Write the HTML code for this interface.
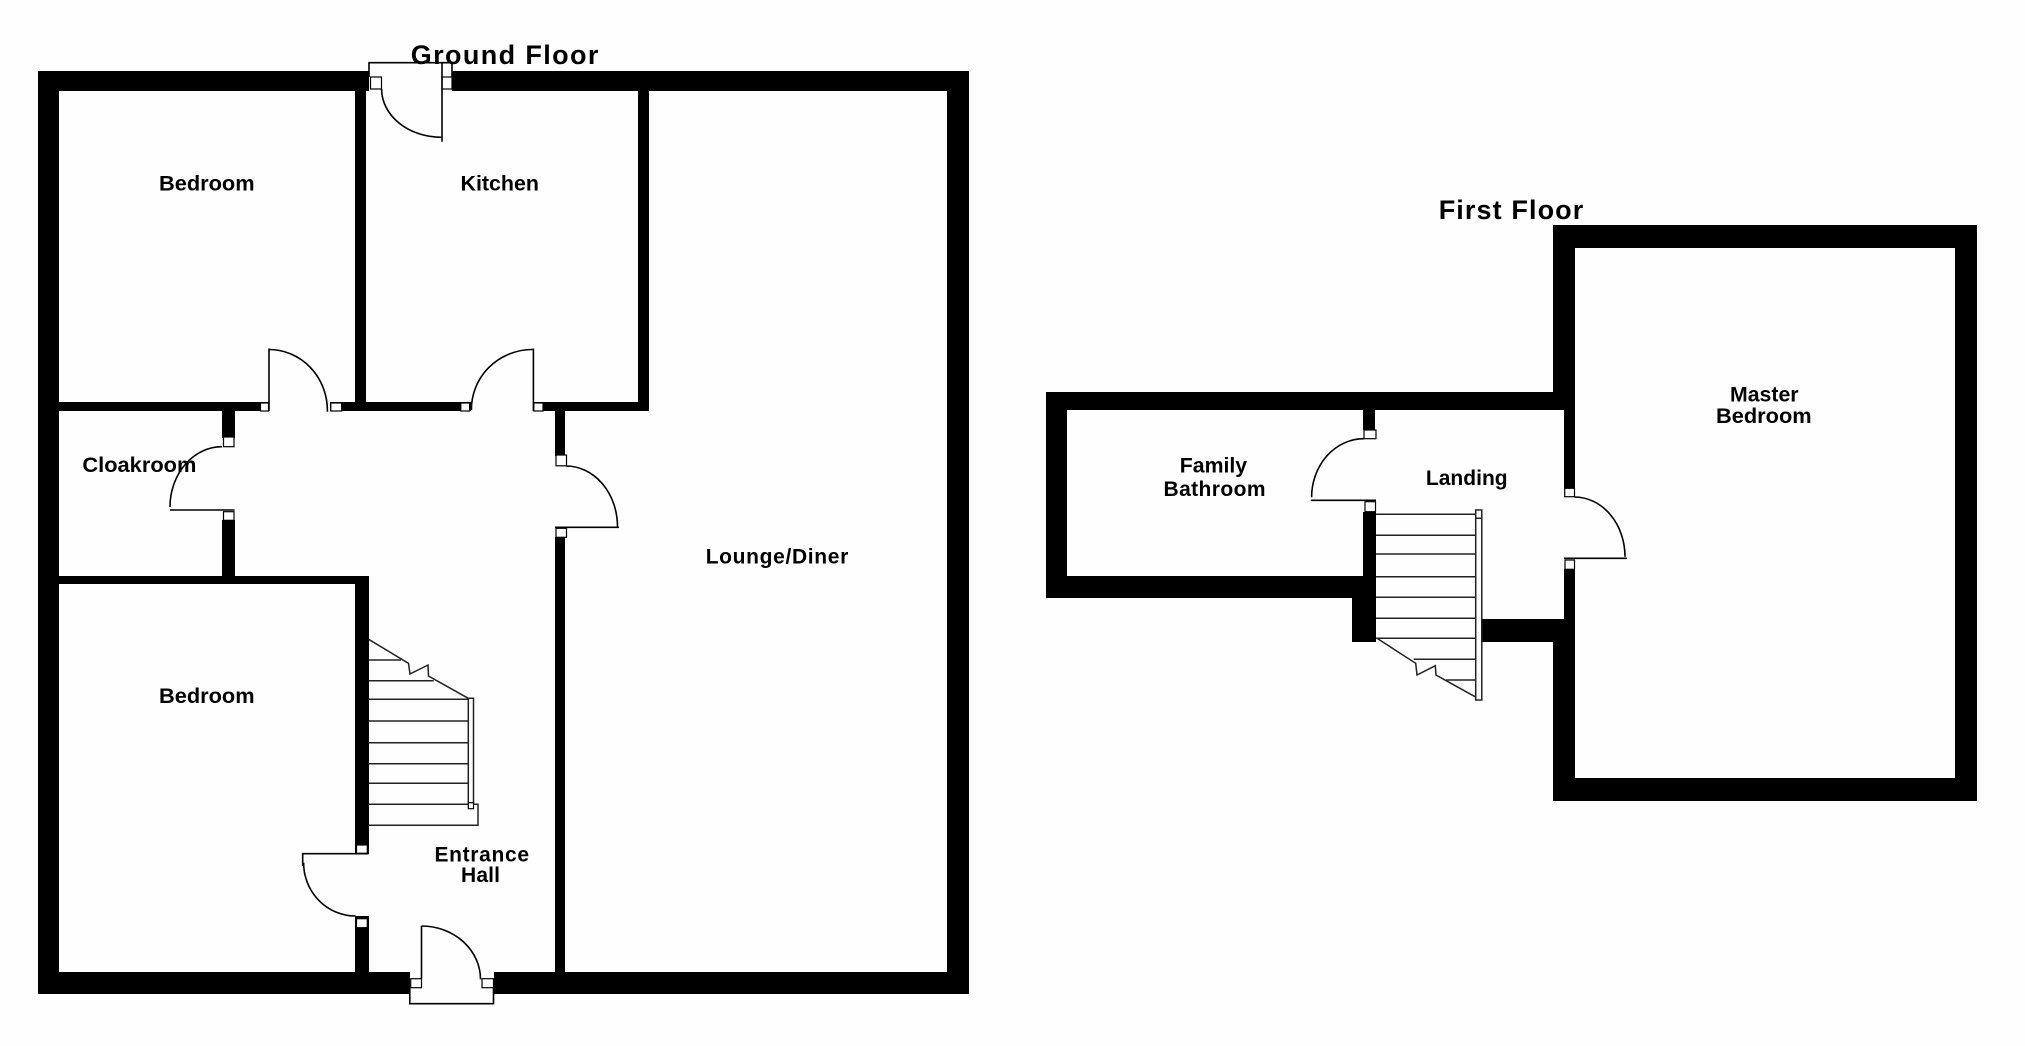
<!DOCTYPE html>
<html>
<head>
<meta charset="utf-8">
<style>
html,body{margin:0;padding:0;background:#fefefe;width:2025px;height:1046px;overflow:hidden}
svg{display:block}
text{font-family:"Liberation Sans",Arial,sans-serif;font-weight:bold;fill:#000}
.w{fill:#000;shape-rendering:crispEdges}
.s{fill:#fff;stroke:#000;stroke-width:1.2}
.l{fill:none;stroke:#000;stroke-width:1.6}
.t{fill:none;stroke:#222;stroke-width:1.5}
</style>
</head>
<body>
<svg width="2025" height="1046" viewBox="0 0 2025 1046" xmlns="http://www.w3.org/2000/svg">
<rect width="2025" height="1046" fill="#fefefe"/>

<!-- Ground floor walls -->
<g class="w">
<rect x="38" y="71" width="331" height="20"/>
<rect x="452" y="71" width="517" height="20"/>
<rect x="38" y="71" width="21" height="923"/>
<rect x="947" y="71" width="22" height="923"/>
<rect x="38" y="972" width="372" height="22"/>
<rect x="494" y="972" width="475" height="22"/>
<rect x="355" y="91" width="11" height="320"/>
<rect x="638" y="91" width="11" height="320"/>
<rect x="59" y="402" width="210" height="9"/>
<rect x="330" y="402" width="141" height="9"/>
<rect x="533" y="402" width="116" height="9"/>
<rect x="555" y="411" width="10" height="45"/>
<rect x="555" y="537" width="10" height="435"/>
<rect x="222" y="411" width="13" height="27"/>
<rect x="222" y="520" width="13" height="56"/>
<rect x="59" y="576" width="310" height="8"/>
<rect x="355" y="576" width="14" height="278"/>
<rect x="355" y="916" width="14" height="56"/>
</g>

<!-- Ground floor jambs -->
<g class="s">
<rect x="370.5" y="77" width="11" height="12"/>
<rect x="442" y="77" width="10" height="12"/>
<rect x="260.5" y="403" width="8" height="8"/>
<rect x="330.8" y="403" width="10.8" height="8"/>
<rect x="460.8" y="403" width="8.8" height="8"/>
<rect x="533.8" y="403" width="9.2" height="8"/>
<rect x="556" y="455" width="10.5" height="10.8"/>
<rect x="556" y="528.3" width="10.5" height="9"/>
<rect x="223.5" y="437" width="10.5" height="9.7"/>
<rect x="223.5" y="511.7" width="10.5" height="8.6"/>
<rect x="356.5" y="845" width="10.8" height="8.3"/>
<rect x="356.5" y="918.7" width="10.8" height="9"/>
<rect x="410.7" y="978.7" width="10.8" height="9"/>
<rect x="482" y="978.7" width="11.5" height="9"/>
</g>

<!-- Ground floor door lines and arcs -->
<g class="l">
<path d="M369 77V62.7H452V77"/>
<path d="M442 63V141.7"/>
<path d="M381.6 89A60 48.3 0 0 0 441.5 137.3"/>
<path d="M269 411V348.5"/>
<path d="M269 349.5A58.4 61 0 0 1 327.4 411.7"/>
<path d="M533.4 411V348.5"/>
<path d="M471.4 410A61 60 0 0 1 532.5 349.5"/>
<path d="M566 466A51.5 60.7 0 0 1 617.5 526.7"/>
<path d="M555 527.3H619"/>
<path d="M222 446.7A52 60.3 0 0 0 170 507"/>
<path d="M170 510H234.6"/>
<path d="M302.7 866V853.7H368.6"/>
<path d="M303.6 862.7A52 53.3 0 0 0 355.6 916"/>
<path d="M421.5 978.7V926"/>
<path d="M421.5 926A59 53.3 0 0 1 480.5 979.3"/>
<path d="M409.8 988V1003.7H493.5V988"/>
</g>

<!-- Ground floor stairs -->
<g class="t">
<path d="M368.6 660H401M368.6 680.7H433.7M368.6 699.3H468.3M368.6 721H468.3M368.6 742.7H468.3M368.6 763.7H468.3M368.6 783.3H468.3M368.6 804.3H478V825.3H368.6"/>
<path d="M368.6 639.3L408.5 663.3L410 674L428 665L428.5 676L468.3 698.3"/>
<path d="M468.3 698.3H473.5V803M468.3 698.3V803"/>
</g>
<rect class="s" x="468.3" y="802.7" width="5.2" height="6"/>

<!-- First floor walls -->
<g class="w">
<rect x="1553" y="225" width="424" height="23"/>
<rect x="1553" y="225" width="22" height="170"/>
<rect x="1955" y="225" width="22" height="576"/>
<rect x="1553" y="778" width="424" height="23"/>
<rect x="1553" y="642" width="22" height="159"/>
<rect x="1046" y="392" width="529" height="18"/>
<rect x="1046" y="392" width="21" height="206"/>
<rect x="1046" y="576" width="330" height="22"/>
<rect x="1352" y="576" width="24" height="66"/>
<rect x="1363" y="512" width="13" height="130"/>
<rect x="1363" y="410" width="12" height="20"/>
<rect x="1564" y="410" width="11" height="79"/>
<rect x="1564" y="569" width="11" height="73"/>
<rect x="1481" y="619" width="94" height="23"/>
</g>

<!-- First floor jambs -->
<g class="s">
<rect x="1364" y="430" width="12" height="8.7"/>
<rect x="1365" y="501.7" width="10.5" height="10"/>
<rect x="1564.7" y="488.3" width="9.8" height="8.4"/>
<rect x="1565" y="560" width="9.5" height="9.3"/>
</g>

<!-- First floor door lines and arcs -->
<g class="l">
<path d="M1363.9 438.7A52.3 58.6 0 0 0 1311.6 497.3"/>
<path d="M1310.8 500.3H1376"/>
<path d="M1574.5 497A50.5 59.7 0 0 1 1625 556.7"/>
<path d="M1563.9 558.3H1627"/>
</g>

<!-- First floor stairs -->
<g class="t">
<path d="M1376 514.3H1475.7M1376 535.3H1475.7M1376 554H1475.7M1376 576.7H1475.7M1376 597.3H1475.7M1376 618.3H1475.7M1376 638.3H1475.7M1413.7 659.3H1475.7M1446 680H1475.7"/>
<path d="M1377 638.3L1415.7 663.3L1417 675L1435.3 665.7L1436 675L1475 696.7"/>
<path d="M1475.7 510H1481.8V700H1475.7ZM1475.7 518.3H1481.8"/>
</g>

<!-- Labels -->
<text x="410.7" y="64" font-size="27" textLength="187.7" lengthAdjust="spacing">Ground Floor</text>
<text x="1438.7" y="219" font-size="27" textLength="144.6" lengthAdjust="spacing">First Floor</text>
<text x="159" y="190.5" font-size="21" textLength="95.6" lengthAdjust="spacingAndGlyphs">Bedroom</text>
<text x="460.5" y="190.5" font-size="21" textLength="78.5" lengthAdjust="spacingAndGlyphs">Kitchen</text>
<text x="82.4" y="472" font-size="21" textLength="114" lengthAdjust="spacingAndGlyphs">Cloakroom</text>
<text x="159" y="703" font-size="21" textLength="95.6" lengthAdjust="spacingAndGlyphs">Bedroom</text>
<text x="434.5" y="861.7" font-size="21" textLength="94.5" lengthAdjust="spacing">Entrance</text>
<text x="461" y="882" font-size="21" textLength="39" lengthAdjust="spacing">Hall</text>
<text x="705.7" y="563.5" font-size="21" textLength="142.6" lengthAdjust="spacing">Lounge/Diner</text>
<text x="1179.8" y="472.7" font-size="21" textLength="67.3" lengthAdjust="spacingAndGlyphs">Family</text>
<text x="1163.5" y="496" font-size="21" textLength="102" lengthAdjust="spacing">Bathroom</text>
<text x="1425.9" y="485" font-size="21" textLength="81.7" lengthAdjust="spacing">Landing</text>
<text x="1730" y="401.7" font-size="21" textLength="68.6" lengthAdjust="spacingAndGlyphs">Master</text>
<text x="1716" y="423" font-size="21" textLength="95.7" lengthAdjust="spacingAndGlyphs">Bedroom</text>
</svg>
</body>
</html>
